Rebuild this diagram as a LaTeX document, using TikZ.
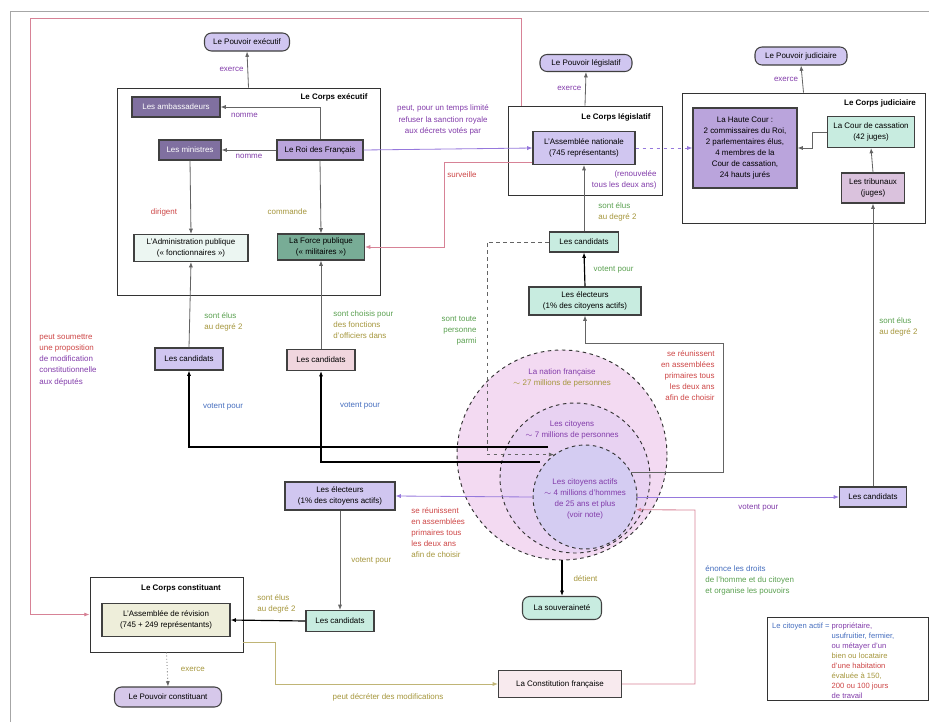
\documentclass[tikz,border=0pt]{standalone}
\usepackage{fontspec}
\setmainfont{Liberation Sans}
\usetikzlibrary{arrows.meta,positioning}

\definecolor{violetfonce}{RGB}{128,112,160}
\definecolor{lavande}{RGB}{208,198,240}
\definecolor{mauve}{RGB}{186,164,220}
\definecolor{menthe}{RGB}{200,236,224}
\definecolor{vertfonce}{RGB}{120,172,150}
\definecolor{rosepale}{RGB}{240,214,222}
\definecolor{creme}{RGB}{238,238,218}
\definecolor{cielpale}{RGB}{236,246,242}
\definecolor{txtviolet}{RGB}{130,60,170}
\definecolor{txtrouge}{RGB}{205,70,70}
\definecolor{txtvert}{RGB}{90,160,80}
\definecolor{txtolive}{RGB}{165,150,60}
\definecolor{txtbleu}{RGB}{70,110,190}
\definecolor{liengris}{RGB}{100,100,100}
\definecolor{lienrose}{RGB}{215,130,150}
\definecolor{lienviolet}{RGB}{150,120,220}
\definecolor{nationfond}{RGB}{243,218,242}
\definecolor{citfond}{RGB}{232,210,242}
\definecolor{actiffond}{RGB}{212,204,242}

\begin{document}
\begin{tikzpicture}[
    x=0.03cm, y=-0.03cm,
    every node/.style={font=\fontsize{6.8}{9.5}\selectfont},
    boite/.style={draw=black!75, line width=0.9pt, align=center, inner sep=1pt},
    pouvoir/.style={boite, rounded corners=6pt, fill=lavande},
    corps/.style={draw=black!80, line width=0.8pt, fill=white, inner sep=0pt},
    titre/.style={font=\fontsize{6.8}{9.5}\selectfont\bfseries},
    etiq/.style={align=center, inner sep=1pt},
    fleche/.style={-{Latex[length=4.5pt,width=3.5pt]}, line width=0.7pt, draw=liengris},
    cercle/.style={circle, draw=black!80, dashed, line width=0.8pt, inner sep=0pt}
  ]

  \useasboundingbox (0,0) rectangle (929,722);
  \draw[gray!70] (10,722) |- (929,11);

  % pouvoir executif
  \node[pouvoir, minimum width=2.55cm, minimum height=0.54cm] (pexec) at (247,42) {Le Pouvoir exécutif};
  \node[corps, minimum width=7.89cm, minimum height=6.21cm] (cexec) at (248.5,191.5) {};
  \node[titre] (texec) at (334,97) {Le Corps exécutif};
  \node[boite, fill=violetfonce, text=white, minimum width=2.64cm, minimum height=0.6cm] (ambass) at (176,107) {Les ambassadeurs};
  \node[boite, fill=violetfonce, text=white, minimum width=1.86cm, minimum height=0.6cm] (ministres) at (190,150) {Les ministres};
  \node[boite, fill=mauve, minimum width=2.58cm, minimum height=0.6cm] (roi) at (320,150) {Le Roi des Français};
  \node[boite, fill=cielpale, minimum width=3.42cm, minimum height=0.81cm] (admin) at (191,248) {L'Administration publique\\(« fonctionnaires »)};
  \node[boite, fill=vertfonce, minimum width=2.61cm, minimum height=0.78cm] (force) at (321,247) {La Force publique\\(« militaires »)};

  % pouvoir legislatif
  \node[pouvoir, minimum width=2.76cm, minimum height=0.51cm] (plegis) at (586,63) {Le Pouvoir législatif};
  \node[corps, minimum width=4.62cm, minimum height=2.67cm] (clegis) at (585,150.5) {};
  \node[titre] (tlegis) at (616,117) {Le Corps législatif};
  \node[boite, fill=lavande, minimum width=3.06cm, minimum height=0.99cm] (assnat) at (584,148) {L'Assemblée nationale\\(745 représentants)};
  \node[etiq, text=txtviolet, align=right, anchor=east] (renouv) at (658,180) {(renouvelée\\tous les deux ans)};

  % pouvoir judiciaire
  \node[pouvoir, minimum width=2.76cm, minimum height=0.54cm] (pjudic) at (801,56) {Le Pouvoir judiciaire};
  \node[corps, minimum width=7.29cm, minimum height=3.9cm] (cjudic) at (803.5,158) {};
  \node[titre] (tjudic) at (880,103) {Le Corps judiciaire};
  \node[boite, fill=mauve, minimum width=3.12cm, minimum height=2.4cm] (haute) at (745,148) {La Haute Cour :\\2 commissaires du Roi,\\2 parlementaires élus,\\4 membres de la\\Cour de cassation,\\24 hauts jurés};
  \node[boite, fill=menthe, minimum width=2.61cm, minimum height=0.93cm] (cassation) at (871,132) {La Cour de cassation\\(42 juges)};
  \node[boite, fill=rosepale!60!mauve, minimum width=1.89cm, minimum height=0.9cm] (tribunaux) at (873,188) {Les tribunaux\\(juges)};

  % elections
  \node[boite, fill=menthe, minimum width=2.07cm, minimum height=0.6cm] (candleg) at (584,242) {Les candidats};
  \node[boite, fill=menthe, minimum width=3.36cm, minimum height=0.84cm] (electleg) at (585,301) {Les électeurs\\(1\% des citoyens actifs)};
  \node[boite, fill=lavande, minimum width=2.04cm, minimum height=0.66cm] (candadm) at (189,359) {Les candidats};
  \node[boite, fill=rosepale, minimum width=2.04cm, minimum height=0.63cm] (candforce) at (321,360) {Les candidats};
  \node[boite, fill=lavande, minimum width=2.01cm, minimum height=0.6cm] (candjud) at (873,497) {Les candidats};
  \node[boite, fill=lavande, minimum width=3.3cm, minimum height=0.84cm] (electconst) at (340,496) {Les électeurs\\(1\% des citoyens actifs)};
  \node[boite, fill=menthe, minimum width=2.04cm, minimum height=0.63cm] (candconst) at (340,621) {Les candidats};

  % les cercles
  \node[cercle, fill=nationfond, minimum size=6.3cm] (nation) at (562,455) {};
  \node[cercle, fill=citfond, minimum size=4.5cm] (citoyens) at (575,478) {};
  \node[cercle, fill=actiffond, minimum size=3.12cm] (actifs) at (585,497) {};
  \node[etiq, text=txtviolet] (tnation) at (562,378) {La nation française\\\textcolor{txtolive}{$\sim$ 27 millions de personnes}};
  \node[etiq, text=txtviolet] (tcit) at (572,430) {Les citoyens\\$\sim$ 7 millions de personnes};
  \node[etiq, text=txtviolet] (tactifs) at (585,499) {Les citoyens actifs\\$\sim$ 4 millions d'hommes\\de 25 ans et plus\\(voir note)};

  % pouvoir constituant
  \node[corps, minimum width=4.59cm, minimum height=2.25cm] (cconst) at (166.5,614.5) {};
  \node[titre] (tconst) at (181,588) {Le Corps constituant};
  \node[boite, fill=creme, minimum width=3.84cm, minimum height=0.99cm] (revision) at (166,620) {L'Assemblée de révision\\(745 + 249 représentants)};
  \node[pouvoir, fill=mauve!60, minimum width=3.21cm, minimum height=0.6cm] (pconst) at (168,697) {Le Pouvoir constituant};
  \node[pouvoir, fill=menthe, minimum width=2.37cm, minimum height=0.69cm] (souver) at (562,608) {La souveraineté};
  \node[boite, fill=rosepale!50, minimum width=3.69cm, minimum height=0.81cm] (constit) at (560,684) {La Constitution française};

  \node[draw=black!80, line width=0.8pt, minimum width=4.83cm, minimum height=2.49cm] (note) at (847.5,658.5) {};
  \node[anchor=north west, inner sep=0pt, font=\fontsize{6.5}{8.6}\selectfont] (tnote) at (772,621) {\begin{tabular}{@{}l@{ }l@{}}
    \textcolor{txtbleu}{Le citoyen actif =} & \textcolor{txtviolet}{propriétaire,}\\
    & \textcolor{txtbleu}{usufruitier, fermier,}\\
    & \textcolor{txtviolet}{ou métayer d'un}\\
    & \textcolor{txtolive}{bien ou locataire}\\
    & \textcolor{txtrouge}{d'une habitation}\\
    & \textcolor{txtolive}{évaluée à 150,}\\
    & \textcolor{txtrouge}{200 ou 100 jours}\\
    & \textcolor{txtviolet}{de travail}
  \end{tabular}};

  \coordinate (coin) at (30,18);
  \coordinate (pa) at (548,447);
  \coordinate (pf) at (540,462);
  \coordinate (reun) at (723,343);
  \coordinate (droits) at (695,510);

  % les liens
  \draw[fleche] (cexec.north) -- (pexec.south) node[midway, left, text=txtviolet] {exerce};
  \draw[fleche] (clegis.north) -- (plegis.south) node[midway, left, text=txtviolet] {exerce};
  \draw[fleche] (cjudic.north) -- (pjudic.south) node[midway, left, text=txtviolet] {exerce};

  \draw[fleche] (roi.north) |- (ambass.east) node[pos=0.88, below=2pt, text=txtviolet] {nomme};
  \draw[fleche] (roi.west) -- (ministres.east) node[midway, below, text=txtviolet] {nomme};
  \draw[fleche] (ministres.south) -- (admin.north) node[pos=0.7, left=8pt, text=txtrouge] {dirigent};
  \draw[fleche] (roi.south) -- (force.north) node[pos=0.7, left=8pt, text=txtolive] {commande};

  \draw[fleche, draw=lienviolet] (roi.east) -- (assnat.west);
  \node[etiq, text=txtviolet] (lsanction) at (443,120) {peut, pour un temps limité\\refuser la sanction royale\\aux décrets votés par};
  \draw[fleche, draw=lienviolet, dashed] (assnat.east) -- (haute.west);
  \draw[fleche] (cassation.west) -- ++(-15,0) |- (haute.east);
  \draw[fleche] (tribunaux.north) -- (cassation.south);
  \draw[fleche, draw=lienrose] ([yshift=-0.42cm]assnat.west) -- ++(-88,0) |- (force.east);
  \node[etiq, text=txtrouge] (lsurv) at (462,175) {surveille};

  \draw[fleche] (candleg.north) -- (assnat.south);
  \node[etiq, align=left, anchor=north west, text=txtvert] (lelusleg) at (597,201) {sont élus\\\textcolor{txtolive}{au degré 2}};
  \draw[fleche, line width=1pt, draw=black] (electleg.north) -- (candleg.south) node[midway, right=4pt, text=txtvert] {votent pour};
  \draw[fleche] (actifs.28) -| (reun) -- (reun -| electleg) -- (electleg.south);
  \node[etiq, align=right, anchor=north east, text=txtrouge] (lreun) at (716,349) {se réunissent\\en assemblées\\primaires tous\\les deux ans\\afin de choisir};
  \draw[fleche, dashed] (candleg.west) -- ++(-62,0) |- (actifs.126);
  \node[etiq, align=right, anchor=north east, text=txtvert] (lparmi) at (478,315) {sont toute\\personne\\parmi};

  \draw[fleche, line width=1pt, draw=black] (pa) -| (candadm.south);
  \draw[fleche, line width=1pt, draw=black] (pf) -| (candforce.south);
  \draw[fleche] (candadm.north) -- (admin.south);
  \draw[fleche] (candforce.north) -- (force.south);
  \node[etiq, align=left, anchor=north west, text=txtvert] (lelus1) at (203,311) {sont élus\\\textcolor{txtolive}{au degré 2}};
  \node[etiq, align=left, anchor=north west, text=txtvert] (lchoix) at (332,309) {sont choisis pour\\\textcolor{txtolive}{des fonctions}\\\textcolor{txtolive}{d'officiers dans}};
  \node[etiq, text=txtbleu] (lvote1) at (223,407) {votent pour};
  \node[etiq, text=txtbleu] (lvote2) at (360,406) {votent pour};

  \draw[fleche, draw=lienviolet] (actifs.west) -- (electconst.east);
  \node[etiq, align=left, anchor=north west, text=txtrouge] (lreun2) at (410,506) {se réunissent\\en assemblées\\primaires tous\\les deux ans\\\textcolor{txtolive}{afin de choisir}};
  \draw[fleche, draw=lienviolet] (actifs.east) -- (candjud.west) node[pos=0.6, below=3pt, text=txtviolet] {votent pour};
  \draw[fleche] (candjud.north) -- (tribunaux.south);
  \node[etiq, align=left, anchor=north west, text=txtvert] (lelusjud) at (878,316) {sont élus\\\textcolor{txtolive}{au degré 2}};

  \draw[fleche] (electconst.south) -- (candconst.north) node[midway, right=6pt, text=txtolive] {votent pour};
  \draw[fleche, line width=1pt, draw=black] (candconst.west) -- (revision.east);
  \node[etiq, align=left, anchor=north west, text=txtolive] (leluscons) at (256,593) {sont élus\\au degré 2};
  \draw[fleche, dotted] (cconst.south) -- (pconst.north) node[midway, right=8pt, text=txtolive] {exerce};
  \draw[fleche, draw=txtolive!70] ([yshift=0.3cm]cconst.south east) -- ++(32,0) |- (constit.west);
  \node[etiq, text=txtolive] (lmodif) at (388,697) {peut décréter des modifications};
  \draw[fleche, line width=1pt, draw=black] (nation.south) -- (souver.north) node[midway, right=6pt, text=txtolive] {détient};
  \draw[fleche, draw=lienrose] (constit.east) -| (droits) -- (actifs.-14);
  \node[etiq, align=left, anchor=north west, text=txtbleu] (ldroits) at (704,564) {énonce les droits\\\textcolor{txtvert}{de l'homme et du citoyen}\\\textcolor{txtvert}{et organise les pouvoirs}};

  \draw[fleche, draw=lienrose] ([xshift=0.42cm]clegis.north west) |- (coin) |- (cconst.west);
  \node[etiq, align=left, anchor=north west, text=txtrouge] (lsoum) at (38,333) {peut soumettre\\une proposition\\\textcolor{txtviolet}{de modification}\\\textcolor{txtviolet}{constitutionnelle}\\\textcolor{txtviolet}{aux députés}};

\end{tikzpicture}
\end{document}
